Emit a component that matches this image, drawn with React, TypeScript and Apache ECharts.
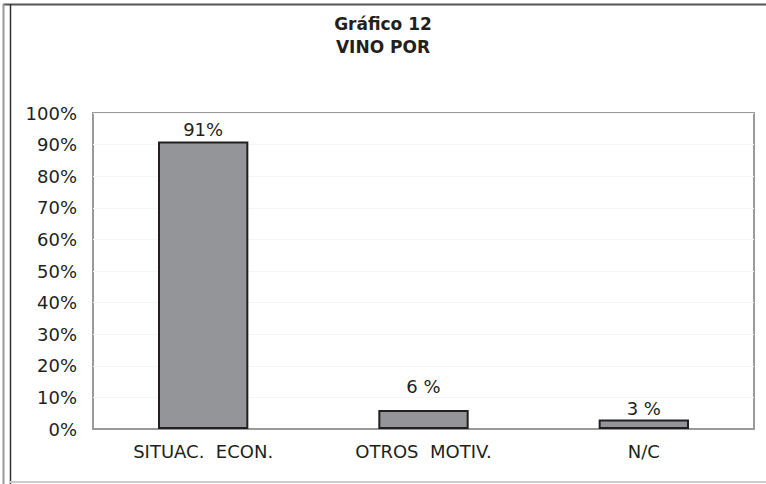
import React, { useEffect, useRef } from "react";
import * as echarts from "echarts";

const categories = ["SITUAC.  ECON.", "OTROS  MOTIV.", "N/C"];
const values = [91, 6, 3];
const valueLabels = ["91%", "6 %", "3 %"];
const labelGaps = [3, 15, 2];
const yTicks = [0, 10, 20, 30, 40, 50, 60, 70, 80, 90, 100];
const titleLines = ["Gráfico 12", "VINO POR"];

const FONT = "'DejaVu Sans', sans-serif";

export default function App() {
  const ref = useRef<HTMLDivElement>(null);
  useEffect(() => {
    if (!ref.current) return;
    const chart = echarts.init(ref.current, null, { renderer: "svg" });
    chart.setOption({
      animation: false,
      backgroundColor: "#ffffff",
      title: {
        text: titleLines.join("\n"),
        left: "center",
        top: 7,
        textStyle: {
          fontFamily: FONT,
          fontWeight: "bold",
          fontSize: 17,
          lineHeight: 23,
          color: "#231f20",
        },
      },
      graphic: [
        { type: "line", shape: { x1: 3, y1: 4.5, x2: 766, y2: 4.5 }, style: { stroke: "#555", lineWidth: 2 } },
        { type: "line", shape: { x1: 3.5, y1: 4, x2: 3.5, y2: 484 }, style: { stroke: "#999", lineWidth: 2 } },
        { type: "line", shape: { x1: 10.5, y1: 4, x2: 10.5, y2: 484 }, style: { stroke: "#333", lineWidth: 1.5 } },
        { type: "line", shape: { x1: 10, y1: 482, x2: 766, y2: 482 }, style: { stroke: "#ccc", lineWidth: 2 } },
      ],
      grid: {
        left: 93,
        right: 12,
        top: 113,
        bottom: 55,
        show: true,
        borderColor: "#9a9a9c",
        borderWidth: 2,
        backgroundColor: "#ffffff",
      },
      xAxis: {
        type: "category",
        data: categories,
        axisLine: { show: true, lineStyle: { color: "#9a9a9c", width: 2 } },
        axisTick: { show: false },
        axisLabel: {
          fontFamily: FONT,
          fontSize: 18,
          color: "#231f20",
          margin: 13,
        },
      },
      yAxis: {
        type: "value",
        min: 0,
        max: 100,
        interval: 10,
        axisLine: { show: false },
        axisTick: { show: false },
        splitLine: { show: true, lineStyle: { color: "#f6f6f6", width: 1 } },
        axisLabel: {
          fontFamily: FONT,
          fontSize: 18,
          color: "#231f20",
          margin: 16,
          formatter: (v: number) => (yTicks.includes(v) ? v + "%" : ""),
        },
      },
      series: [
        {
          type: "bar",
          barWidth: "41%",
          data: values.map((v, i) => ({
            value: v,
            label: { distance: labelGaps[i] },
          })),
          itemStyle: {
            color: "#939598",
            borderColor: "#231f20",
            borderWidth: 2,
          },
          label: {
            show: true,
            position: "top",
            fontFamily: FONT,
            fontSize: 18,
            color: "#231f20",
            formatter: (p: any) => valueLabels[p.dataIndex],
          },
        },
      ],
    });
    return () => chart.dispose();
  }, []);
  return <div ref={ref} style={{ width: 766, height: 484, position: "absolute", left: 0, top: 0 }} />;
}
